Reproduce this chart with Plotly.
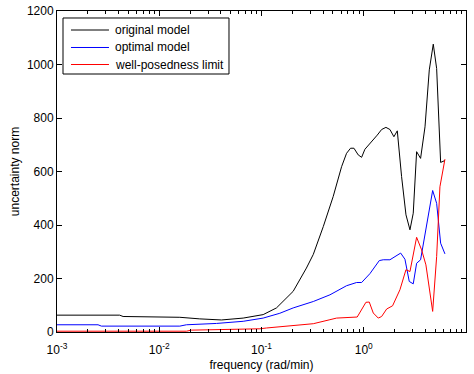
import plotly.graph_objects as go

# Frequencies (rad/min) and uncertainty norms
freq_original = [0.001, 0.0041, 0.00443, 0.0101, 0.0159, 0.0249, 0.0406, 0.0662, 0.1038, 0.140,
                 0.204, 0.275, 0.321, 0.402, 0.502, 0.607, 0.679, 0.743, 0.802, 0.883,
                 0.953, 1.026, 1.194, 1.355, 1.496, 1.648, 1.803, 1.972, 2.128, 2.344,
                 2.588, 2.831, 3.048, 3.289, 3.597, 3.972, 4.375, 4.786, 5.164, 5.649, 6.223]
norm_original = [63, 63, 58, 57, 55, 49, 45, 52, 65, 90,
                 152, 239, 290, 394, 506, 618, 668, 687, 687, 662,
                 653, 683, 711, 736, 757, 765, 757, 730, 752, 581,
                 438, 382, 444, 674, 649, 767, 980, 1076, 985, 634, 641]

freq_optimal = [0.001, 0.00252, 0.00272, 0.0159, 0.01845, 0.0363, 0.0662, 0.1038, 0.151, 0.204,
                0.321, 0.467, 0.679, 0.851, 0.953, 1.148, 1.419, 1.552, 1.803, 2.018,
                2.296, 2.529, 2.786, 3.048, 3.289, 3.597, 4.121, 4.721, 5.164, 5.649, 6.223]
norm_optimal = [27, 27, 22, 22, 27, 32, 40, 52, 70, 90,
                114, 139, 173, 185, 185, 218, 267, 270, 270, 282,
                295, 272, 189, 180, 257, 270, 394, 529, 481, 332, 292]

freq_limit = [0.001, 0.01845, 0.02065, 0.0528, 0.0964, 0.1119, 0.163, 0.220, 0.321, 0.467,
              0.542, 0.863, 0.953, 1.050, 1.132, 1.239, 1.387, 1.496, 1.675, 1.914,
              2.259, 2.588, 2.831, 3.289, 3.681, 4.055, 4.721, 5.164, 5.559, 6.223]
norm_limit = [3, 3, 7, 9, 12, 15, 20, 24, 31, 46,
              52, 56, 83, 111, 112, 71, 52, 58, 86, 98,
              158, 233, 226, 354, 307, 251, 77, 282, 543, 646]

series_names = ["original model", "optimal model", "well-posedness limit"]
series_colors = ["black", "#0000ff", "#ff0000"]

x_tickvals = [0.001, 0.01, 0.1, 1, 10]
x_ticktext = ["10<sup>-3</sup>", "10<sup>-2</sup>", "10<sup>-1</sup>", "10<sup>0</sup>", "10<sup>1</sup>"]
y_tickvals = [0, 200, 400, 600, 800, 1000, 1200]

fig = go.Figure()
for xs, ys, name, color in zip([freq_original, freq_optimal, freq_limit],
                               [norm_original, norm_optimal, norm_limit],
                               series_names, series_colors):
    fig.add_trace(go.Scatter(x=xs, y=ys, mode="lines", name=name, showlegend=False,
                             line=dict(color=color, width=1)))

font = dict(family="Liberation Sans, Arial, sans-serif", size=12, color="black")

# MATLAB-style legend box drawn in paper coordinates
shapes = [dict(type="rect", xref="paper", yref="paper", x0=0.0147, x1=0.4205, y0=0.8037, y1=0.9782,
               line=dict(color="black", width=1), fillcolor="white", layer="above")]
annotations = []
row_y = [0.9408, 0.8863, 0.8333]
for name, color, yy in zip(series_names, series_colors, row_y):
    shapes.append(dict(type="line", xref="paper", yref="paper", x0=0.0342, x1=0.1271, y0=yy, y1=yy,
                       line=dict(color=color, width=1), layer="above"))
    annotations.append(dict(xref="paper", yref="paper", x=0.1369, y=yy, text=name, showarrow=False,
                            xanchor="left", yanchor="middle", font=font))

fig.update_layout(
    width=474, height=374,
    margin=dict(l=57, r=8, t=11, b=42),
    paper_bgcolor="white", plot_bgcolor="white",
    font=font,
    showlegend=False,
    shapes=shapes,
    annotations=annotations,
    xaxis=dict(type="log", range=[-3, 1], tickvals=x_tickvals, ticktext=x_ticktext,
               ticks="inside", ticklen=5, tickcolor="black", showgrid=False, zeroline=False,
               showline=True, linecolor="black", linewidth=1, mirror="allticks",
               ticklabelstandoff=7, automargin=False,
               minor=dict(ticks="inside", ticklen=3, tickcolor="black", showgrid=False,
                          tickvals=[m * 10 ** e for e in range(-3, 1) for m in range(2, 10)]),
               title=dict(text="frequency (rad/min)", standoff=4, font=font),
               tickfont=font),
    yaxis=dict(range=[0, 1200], tickvals=y_tickvals, automargin=False,
               ticks="inside", ticklen=5, tickcolor="black", showgrid=False, zeroline=False,
               showline=True, linecolor="black", linewidth=1, mirror="allticks",
               title=dict(text="uncertainty norm", standoff=4, font=font),
               tickfont=font),
)

fig.write_html("out.html")
